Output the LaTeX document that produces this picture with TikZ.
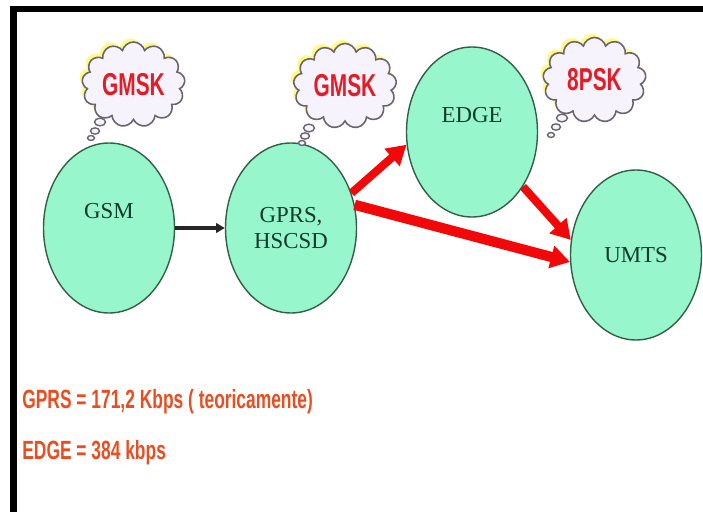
\documentclass[tikz,border=0pt]{standalone}
\usepackage{fontspec}
\setmainfont{Liberation Serif}
\newfontfamily\estrecha[FakeStretch=0.66]{Liberation Sans}
\usetikzlibrary{shapes.geometric, shapes.symbols, arrows.meta, shadows}
\definecolor{verdeAgua}{RGB}{152,246,204}
\definecolor{verdeBorde}{RGB}{50,95,70}
\definecolor{verdeTexto}{RGB}{18,60,42}
\definecolor{rojoFlecha}{RGB}{242,8,8}
\definecolor{rojoNube}{RGB}{228,28,40}
\definecolor{naranjaTexto}{RGB}{232,78,34}
\definecolor{lilaNube}{RGB}{246,243,252}
\definecolor{grisNube}{RGB}{105,100,112}

\tikzset{
  estado/.style={ellipse, draw=verdeBorde, line width=0.8pt, fill=verdeAgua,
    inner sep=0pt, minimum width=2.62cm, minimum height=3.4cm, align=center,
    text=verdeTexto, font=\fontsize{13}{15}\selectfont},
  nube/.style={cloud, cloud puffs=13, cloud ignores aspect, draw=grisNube,
    line width=0.9pt, fill=lilaNube, inner sep=0pt, minimum width=2.06cm,
    minimum height=1.7cm, text=rojoNube,
    font=\estrecha\bfseries\fontsize{18}{18}\selectfont,
    drop shadow={shadow xshift=-1.6pt, shadow yshift=2pt, fill=yellow!60, opacity=0.8}},
  burbuja/.style={draw=grisNube, line width=0.8pt, fill=lilaNube},
  flecha/.style={draw=rojoFlecha, -{Triangle[length=11pt,width=12.5pt]}},
  dato/.style={anchor=west, inner sep=0pt, text=naranjaTexto,
    font=\estrecha\bfseries\fontsize{15}{16}\selectfont}
}

\begin{document}
\begin{tikzpicture}[x=2cm, y=2cm]
  \useasboundingbox (0,0) rectangle (7.03,5.12);
  % marco negro
  \fill[black] (0.10,5.00) rectangle (7.03,5.06);
  \fill[black] (0.10,0) rectangle (0.17,5.06);

  % estados
  \node[estado] (gsm) at (1.09,2.84) {GSM\\[4pt]\mbox{}};
  \node[estado] (gprs) at (2.91,2.84) {GPRS,\\HSCSD};
  \node[estado] (edge) at (4.72,3.80) {EDGE\\[4pt]\mbox{}};
  \node[estado] (umts) at (6.36,2.57) {UMTS};

  % modulaciones
  \node[nube] (n1) at (1.335,4.275) {GMSK};
  \node[nube] (n2) at (3.45,4.26) {GMSK};
  \node[nube] (n3) at (5.945,4.32) {8PSK};
  \foreach \x/\y/\r in {1.00/3.90/0.055, 0.95/3.81/0.045, 0.91/3.74/0.035,
                       3.09/3.84/0.055, 3.05/3.76/0.045, 3.02/3.69/0.035,
                       5.62/3.94/0.055, 5.56/3.85/0.045, 5.51/3.77/0.035}
    \draw[burbuja] (\x,\y) ellipse [x radius=\r, y radius=0.7*\r];

  % transiciones
  \draw[line width=2pt, black!85, -{Triangle[length=5pt,width=5.5pt]}] (gsm) -- (gprs);
  \draw[flecha, line width=4.6pt] (gprs.30) -- (edge.191);
  \draw[flecha, line width=5.8pt] (gprs.20) -- (umts.186);
  \draw[flecha, line width=4.6pt] (edge.313) -- (umts.167);

  % velocidades
  \node[dato] (vgprs) at (0.22,1.10) {GPRS = 171,2 Kbps ( teoricamente)};
  \node[dato] (vedge) at (0.22,0.59) {EDGE = 384 kbps};
\end{tikzpicture}
\end{document}
